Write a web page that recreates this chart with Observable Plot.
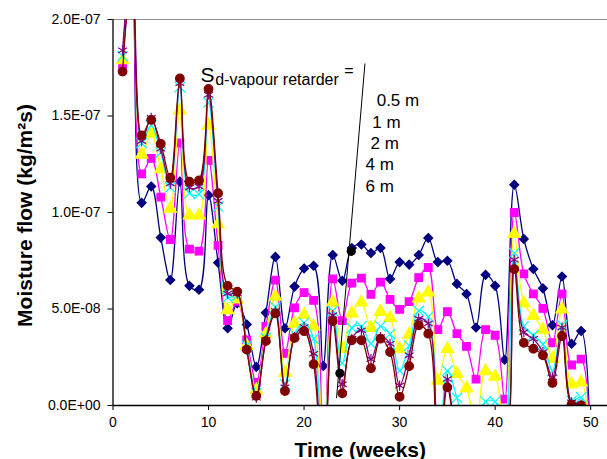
<!DOCTYPE html>
<html><head><meta charset="utf-8">
<script src="https://cdn.jsdelivr.net/npm/d3@7"></script>
<script src="https://cdn.jsdelivr.net/npm/@observablehq/plot@0.6"></script>
<style>
html,body{margin:0;padding:0;background:#fff;}
#chart{width:607px;height:459px;overflow:hidden;}
</style></head><body><div id="chart"></div>
<script>
// Moisture flow values in units of 1E-09 kg/(m²s), weeks 1..50
const weeks = d3.range(1, 51);
const sd05 = [178,225,105,113.5,87,65,116,62,60,109, 74,40,53,42,20,48,77,40,61.6,71, 72.4,20.5,78,64.6,81.6,83.4,79,81.6,65.6,74.3, 73,78,86.8,74.3,75,63,57.8,40.4,67.7,62, 23.7,114.4,86.3,70.7,60.7,41.6,66.8,32,38.6,-35];
const sd1  = [176.5,228,120,128,108,86,136,81,80,127, 83,44,54,34,12,41,65,27,50.6,58.5, 54.5,-40,65.6,44,63.4,66,57.6,63.9,55,49.8, 53.8,66.3,71.5,39.3,48.6,37.2,30.6,13.7,39.3,36.4, 3.3,100,68.2,57.8,50.3,32.5,57.8,21,24,-40];
const sd2  = [179,230,130,141,122.5,102,153,98.5,98.5,145, 94,49.5,55,31,8,37,56.4,17,42.5,47, 41,-40,53.4,29.4,47.7,53.4,40.2,48.6,45.4,29.4, 36.7,55.5,58.6,12.9,29.4,16.4,8.9,-10,17.8,15, -20,89,53,46.5,39.3,24.2,49.8,11,12,-40];
const sd4  = [181,230,136,145,131,113,165,110,109.5,157, 103,56,57,31,6.5,35,51,11,37,42.8, 34.6,-40,49,22,40.2,41,32,41,37,18, 31,49,46,-40,18,4,-15,-10,2,2, -20,79,41,36.4,31.7,18,41.6,2.4,4.2,-40];
const sd6  = [184,232,137,149,133,115,167,113,113.5,161, 106,58,58,29,4,34,49,9.4,35.5,40.7, 26.8,-40,46.8,11,34.6,39,24,35.5,32,10.3, 26,45,42.5,-40,13.7,-15,-20,-20,-15,-15, -20,75.5,38,34.6,27.7,14.6,40.4,1.6,0.5,-40];
const sdX  = [173,227,140,148,135.6,118,169.5,116,116.6,164, 110,62,59,29,5,33.4,47.7,7.5,35,38.5, 21.4,-40,43.7,6.3,33.8,33.8,19.3,34.6,27.7,4.5, 20.4,41.6,37.2,-40,9.4,-15,-20,-20,-15,-15, -20,70.7,32.5,29.4,26,11.7,36,0.5,0,-40];

const seriesKeys = ["0.5 m","1 m","2 m","4 m","6 m","series 6"];
const seriesValues = [sd05, sd1, sd2, sd4, sd6, sdX];

const xTicks = [0,10,20,30,40,50];
const yTicks = [0,50,100,150,200];
const yTickLabels = ["0.0E+00","5.0E-08","1.0E-07","1.5E-07","2.0E-07"];

const legendLabels = ["0.5 m","1 m","2 m","4 m","6 m"];
// annotation (pointer line and dots) in chart coordinates
const annoLine = [{x:26.37,y:177},{x:23.4,y:4}];
const annoDots = [{x:24.94,y:79.9},{x:23.75,y:16.7}];

const styles = [
  {color:"#000080", symbol:"diamond2", r:4.0, fill:"#000080"},
  {color:"#FF00FF", symbol:"square", r:4.3, fill:"#FF00FF"},
  {color:"#FFFF00", symbol:"triangle", r:4.6, fill:"#FFFF00"},
  {color:"#00FFFF", symbol:"times", r:4.8, fill:"none"},
  {color:"#800080", symbol:"asterisk", r:4.8, fill:"none"},
  {color:"#800000", symbol:"circle", r:4.3, fill:"#800000"}
];

const rows = [];
seriesKeys.forEach((k, si) => {
  weeks.forEach((w, i) => rows.push({series:k, si, week:w, v:seriesValues[si][i]}));
});

const marks = [Plot.ruleY([200], {stroke:"#8c8c8c", strokeWidth:1})];
seriesKeys.forEach((k, si) => {
  const d = rows.filter(r => r.si === si);
  const s = styles[si];
  marks.push(Plot.line(d, {x:"week", y:"v", stroke:s.color, strokeWidth:1.3, curve:"catmull-rom", clip:true}));
  marks.push(Plot.dot(d, {x:"week", y:"v", symbol:s.symbol, r:s.r, fill:s.fill, stroke:s.color, strokeWidth:1.2, clip:true}));
});
marks.push(
  Plot.ruleY([0], {stroke:"black", strokeWidth:1.3}),
  Plot.ruleX([0], {stroke:"black", strokeWidth:1.3}),
  Plot.line(annoLine, {x:"x", y:"y", stroke:"black", strokeWidth:1}),
  Plot.dot(annoDots, {x:"x", y:"y", r:4.6, fill:"black"}),
  Plot.text(["S"], {x:9.16, y:167.4, textAnchor:"start", lineAnchor:"bottom", fontSize:21}),
  Plot.text(["d-vapour retarder"], {x:10.7, y:166.3, textAnchor:"start", lineAnchor:"bottom", fontSize:16}),
  Plot.text(["="], {x:24.2, y:170.5, textAnchor:"start", lineAnchor:"bottom", fontSize:16}),
  Plot.text(legendLabels.map((t, i) => ({t, x:[27.6,27.14,26.96,26.44,26.44][i], y:[155.4,144.0,132.9,121.8,110.4][i]})),
    {x:"x", y:"y", text:"t", textAnchor:"start", lineAnchor:"bottom", fontSize:17}),
  Plot.text(["Time (weeks)"], {frameAnchor:"bottom", dy:51, textAnchor:"middle", lineAnchor:"bottom", fontSize:21, fontWeight:"bold"}),
  Plot.text(["Moisture flow (kg/m\u00B2s)"], {frameAnchor:"left", dx:-81.5, dy:3, rotate:-90, textAnchor:"middle", lineAnchor:"bottom", fontSize:21, fontWeight:"bold"})
);

const chart = Plot.plot({
  width: 607,
  height: 459,
  marginLeft: 112.5,
  marginRight: 0,
  marginTop: 19,
  marginBottom: 54,
  style: {fontFamily: "'Liberation Sans', Arial, sans-serif", fontSize: "14px", background: "white", color: "black", overflow: "hidden"},
  x: {domain: [0, 51.76], ticks: xTicks, tickSize: 5, tickPadding: 7, label: null, tickFormat: d => String(d)},
  y: {domain: [0, 200], ticks: yTicks, tickSize: 5, tickPadding: 7.5, label: null, tickFormat: d => yTickLabels[yTicks.indexOf(d)]},
  marks
});
document.getElementById("chart").appendChild(chart);
</script></body></html>
